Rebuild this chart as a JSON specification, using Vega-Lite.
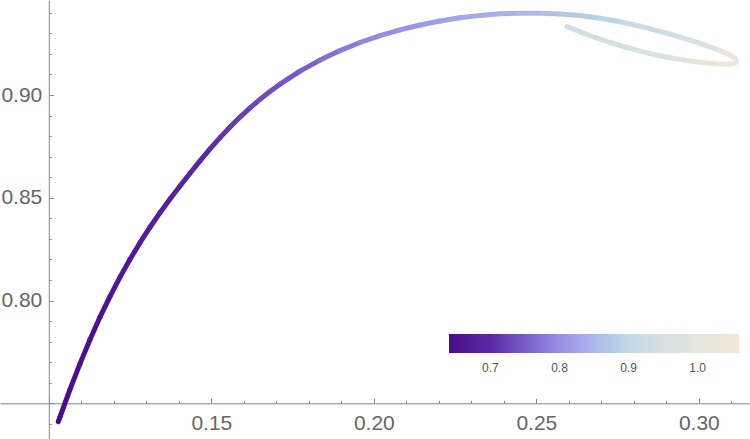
{
  "$schema": "https://vega.github.io/schema/vega-lite/v6.json",
  "width": 750,
  "height": 439,
  "autosize": "none",
  "padding": 0,
  "background": "white",
  "config": {"view": {"stroke": null}, "font": "Liberation Sans"},
  "data": {"values": [
    {"i": 1, "x": 0.10292, "y": 0.74105, "t": 0.640},
    {"i": 2, "x": 0.10345, "y": 0.74338, "t": 0.641},
    {"i": 3, "x": 0.10652, "y": 0.75676, "t": 0.644},
    {"i": 4, "x": 0.10960, "y": 0.76932, "t": 0.647},
    {"i": 5, "x": 0.11268, "y": 0.78105, "t": 0.650},
    {"i": 6, "x": 0.11575, "y": 0.79195, "t": 0.655},
    {"i": 7, "x": 0.11883, "y": 0.80207, "t": 0.659},
    {"i": 8, "x": 0.12191, "y": 0.81141, "t": 0.663},
    {"i": 9, "x": 0.12498, "y": 0.82007, "t": 0.667},
    {"i": 10, "x": 0.12806, "y": 0.82815, "t": 0.671},
    {"i": 11, "x": 0.13114, "y": 0.83569, "t": 0.675},
    {"i": 12, "x": 0.13422, "y": 0.84275, "t": 0.680},
    {"i": 13, "x": 0.13729, "y": 0.84942, "t": 0.685},
    {"i": 14, "x": 0.14037, "y": 0.85574, "t": 0.690},
    {"i": 15, "x": 0.14345, "y": 0.86197, "t": 0.695},
    {"i": 16, "x": 0.14652, "y": 0.86800, "t": 0.700},
    {"i": 17, "x": 0.14960, "y": 0.87380, "t": 0.705},
    {"i": 18, "x": 0.15268, "y": 0.87929, "t": 0.711},
    {"i": 19, "x": 0.15575, "y": 0.88445, "t": 0.717},
    {"i": 20, "x": 0.15883, "y": 0.88927, "t": 0.722},
    {"i": 21, "x": 0.16191, "y": 0.89375, "t": 0.728},
    {"i": 22, "x": 0.16498, "y": 0.89788, "t": 0.733},
    {"i": 23, "x": 0.16806, "y": 0.90173, "t": 0.739},
    {"i": 24, "x": 0.17114, "y": 0.90528, "t": 0.744},
    {"i": 25, "x": 0.17729, "y": 0.91161, "t": 0.755},
    {"i": 26, "x": 0.18345, "y": 0.91701, "t": 0.767},
    {"i": 27, "x": 0.18960, "y": 0.92163, "t": 0.779},
    {"i": 28, "x": 0.19575, "y": 0.92557, "t": 0.789},
    {"i": 29, "x": 0.20191, "y": 0.92888, "t": 0.797},
    {"i": 30, "x": 0.20806, "y": 0.93170, "t": 0.805},
    {"i": 31, "x": 0.21422, "y": 0.93409, "t": 0.813},
    {"i": 32, "x": 0.22037, "y": 0.93603, "t": 0.821},
    {"i": 33, "x": 0.22652, "y": 0.93759, "t": 0.829},
    {"i": 34, "x": 0.23268, "y": 0.93876, "t": 0.835},
    {"i": 35, "x": 0.23883, "y": 0.93954, "t": 0.840},
    {"i": 36, "x": 0.24498, "y": 0.93983, "t": 0.850},
    {"i": 37, "x": 0.25114, "y": 0.93983, "t": 0.860},
    {"i": 38, "x": 0.25729, "y": 0.93949, "t": 0.870},
    {"i": 39, "x": 0.26345, "y": 0.93871, "t": 0.880},
    {"i": 40, "x": 0.26960, "y": 0.93740, "t": 0.890},
    {"i": 41, "x": 0.27575, "y": 0.93564, "t": 0.903},
    {"i": 42, "x": 0.28191, "y": 0.93350, "t": 0.917},
    {"i": 43, "x": 0.28806, "y": 0.93102, "t": 0.932},
    {"i": 44, "x": 0.29422, "y": 0.92825, "t": 0.950},
    {"i": 45, "x": 0.30037, "y": 0.92518, "t": 0.975},
    {"i": 46, "x": 0.30652, "y": 0.92163, "t": 1.005},
    {"i": 47, "x": 0.30960, "y": 0.91949, "t": 1.025},
    {"i": 48, "x": 0.31114, "y": 0.91779, "t": 1.040},
    {"i": 49, "x": 0.31160, "y": 0.91633, "t": 1.055},
    {"i": 50, "x": 0.31083, "y": 0.91535, "t": 1.055},
    {"i": 51, "x": 0.30898, "y": 0.91501, "t": 1.050},
    {"i": 52, "x": 0.30498, "y": 0.91521, "t": 1.030},
    {"i": 53, "x": 0.30037, "y": 0.91599, "t": 1.005},
    {"i": 54, "x": 0.29575, "y": 0.91691, "t": 0.990},
    {"i": 55, "x": 0.29114, "y": 0.91813, "t": 0.978},
    {"i": 56, "x": 0.28652, "y": 0.91959, "t": 0.968},
    {"i": 57, "x": 0.28191, "y": 0.92134, "t": 0.960},
    {"i": 58, "x": 0.27729, "y": 0.92338, "t": 0.952},
    {"i": 59, "x": 0.27268, "y": 0.92557, "t": 0.945},
    {"i": 60, "x": 0.26806, "y": 0.92801, "t": 0.940},
    {"i": 61, "x": 0.26345, "y": 0.93078, "t": 0.935},
    {"i": 62, "x": 0.25945, "y": 0.93326, "t": 0.930}
  ]},
  "transform": [
    {"window": [{"op": "lead", "field": "x", "as": "xe"}, {"op": "lead", "field": "y", "as": "ye"}], "sort": [{"field": "i"}]},
    {"filter": "datum.xe != null"}
  ],
  "mark": {"type": "rule", "strokeWidth": 5, "strokeCap": "round"},
  "encoding": {
    "x": {
      "field": "x", "type": "quantitative",
      "scale": {"domain": [0.08498, 0.31575], "nice": false, "zero": false},
      "axis": {
        "orient": "bottom", "offset": -35.7, "title": null, "grid": false,
        "values": [0.10, 0.11, 0.12, 0.13, 0.14, 0.15, 0.16, 0.17, 0.18, 0.19, 0.20, 0.21, 0.22, 0.23, 0.24, 0.25, 0.26, 0.27, 0.28, 0.29, 0.30, 0.31],
        "labelExpr": "(abs(datum.value*20 - round(datum.value*20)) < 1e-6 && datum.value > 0.11) ? format(datum.value, '.2f') : ''",
        "tickSize": {"condition": {"test": "abs(datum.value*20 - round(datum.value*20)) < 1e-6", "value": -5}, "value": -3},
        "labelPadding": 14,
        "labelFontSize": 21, "labelColor": "#666666", "labelFont": "Liberation Sans",
        "domainColor": "#888888", "tickColor": "#888888", "labelFlush": false, "labelOverlap": false
      }
    },
    "y": {
      "field": "y", "type": "quantitative",
      "scale": {"domain": [0.73263, 0.94625], "nice": false, "zero": false},
      "axis": {
        "orient": "left", "offset": -48.8, "title": null, "grid": false,
        "values": [0.74, 0.75, 0.76, 0.77, 0.78, 0.79, 0.80, 0.81, 0.82, 0.83, 0.84, 0.85, 0.86, 0.87, 0.88, 0.89, 0.90, 0.91, 0.92, 0.93, 0.94],
        "labelExpr": "(abs(datum.value*20 - round(datum.value*20)) < 1e-6 && datum.value > 0.76) ? format(datum.value, '.2f') : ''",
        "tickSize": {"condition": {"test": "abs(datum.value*20 - round(datum.value*20)) < 1e-6", "value": -4.5}, "value": -2.5},
        "labelPadding": 11.5,
        "labelFontSize": 21, "labelColor": "#666666", "labelFont": "Liberation Sans",
        "domainColor": "#888888", "tickColor": "#888888", "labelFlush": false, "labelOverlap": false
      }
    },
    "x2": {"field": "xe"},
    "y2": {"field": "ye"},
    "color": {
      "field": "t", "type": "quantitative",
      "scale": {
        "domain": [0.64, 0.70, 0.75, 0.80, 0.85, 0.90, 0.95, 1.00, 1.06],
        "range": ["#4a0c8a", "#5a28a3", "#7a5cc8", "#9890e6", "#b0b8ea", "#c4d8e6", "#d6e0e2", "#e6e4dc", "#f2e8d8"]
      },
      "legend": {
        "orient": "none", "legendX": 449, "legendY": 334, "direction": "horizontal",
        "gradientLength": 290, "gradientThickness": 19, "gradientStrokeWidth": 0,
        "title": null, "values": [0.7, 0.8, 0.9, 1.0], "format": ".1f",
        "labelFontSize": 12, "labelColor": "#555555", "labelOffset": 10, "labelFont": "Liberation Sans"
      }
    }
  }
}
